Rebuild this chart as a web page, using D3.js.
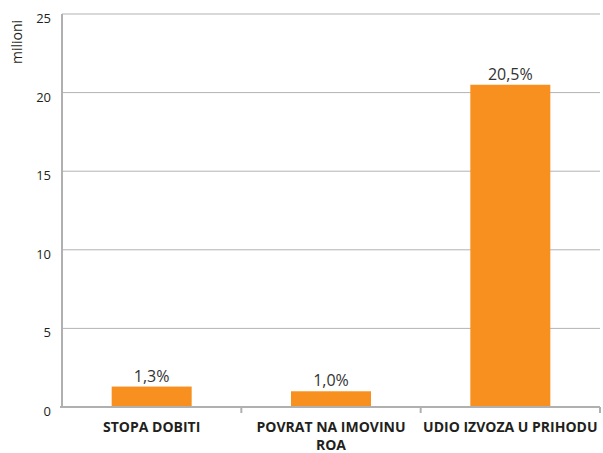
<!DOCTYPE html>
<html>
<head>
<meta charset="utf-8">
<script src="https://cdn.jsdelivr.net/npm/d3@7"></script>
<style>
  body { margin: 0; background: #fff; }
  svg text { font-family: "Open Sans", "Noto Sans", sans-serif; }
</style>
</head>
<body>
<div id="chart"></div>
<script>
const categories = [['STOPA DOBITI'], ['POVRAT NA IMOVINU', 'ROA'], ['UDIO IZVOZA U PRIHODU']];
const values = [1.3, 1.0, 20.5];
const valueLabels = ['1,3%', '1,0%', '20,5%'];
const yTicks = [0, 5, 10, 15, 20, 25];
const yTitle = 'milioni';

const W = 603, H = 453;
const margin = { top: 14, right: 3, bottom: 46, left: 62 };
const width = W - margin.left - margin.right;
const height = H - margin.top - margin.bottom;

const svg = d3.select('#chart').append('svg')
  .attr('width', W)
  .attr('height', H);

const g = svg.append('g')
  .attr('transform', `translate(${margin.left},${margin.top})`);

const x = d3.scaleBand()
  .domain(categories.map((d, i) => i))
  .range([0, width])
  .paddingInner(0)
  .paddingOuter(0);

const y = d3.scaleLinear()
  .domain([0, 25])
  .range([height, 0]);

// grid lines
g.append('g')
  .selectAll('line')
  .data(yTicks.filter(d => d > 0))
  .join('line')
  .attr('x1', 0)
  .attr('x2', width)
  .attr('y1', d => y(d))
  .attr('y2', d => y(d))
  .attr('stroke', '#b3b3b3')
  .attr('stroke-width', 1);

// y tick labels
g.append('g')
  .selectAll('text')
  .data(yTicks)
  .join('text')
  .attr('x', -11)
  .attr('y', d => y(d) + 9)
  .attr('text-anchor', 'end')
  .style('font-size', '13px')
  .style('fill', '#231f20')
  .text(d => d);

// bars
const barW = 80;
g.selectAll('rect.bar')
  .data(values)
  .join('rect')
  .attr('class', 'bar')
  .attr('x', (d, i) => x(i) + (x.bandwidth() - barW) / 2)
  .attr('y', d => y(d))
  .attr('width', barW)
  .attr('height', d => y(0) - y(d))
  .attr('fill', '#f7901e');

// value labels
g.selectAll('text.val')
  .data(values)
  .join('text')
  .attr('class', 'val')
  .attr('x', (d, i) => x(i) + x.bandwidth() / 2)
  .attr('y', d => y(d) - 5)
  .attr('text-anchor', 'middle')
  .style('font-size', '16px')
  .style('fill', '#333')
  .text((d, i) => valueLabels[i]);

// axes
g.append('line')
  .attr('x1', 0).attr('x2', 0)
  .attr('y1', 0).attr('y2', height)
  .attr('stroke', '#b0b0b0')
  .attr('stroke-width', 2);

g.append('line')
  .attr('x1', -2).attr('x2', width)
  .attr('y1', height).attr('y2', height)
  .attr('stroke', '#b0b0b0')
  .attr('stroke-width', 2);

// bottom ticks at band edges
g.append('g')
  .selectAll('line')
  .data(categories.map((d, i) => i))
  .join('line')
  .attr('x1', i => x(i) + x.bandwidth())
  .attr('x2', i => x(i) + x.bandwidth())
  .attr('y1', height)
  .attr('y2', height + 6)
  .attr('stroke', '#b0b0b0')
  .attr('stroke-width', 2);

// category labels, one text per line
const catLines = categories.flatMap((d, i) => d.map((t, j) => ({ t, i, j })));
g.selectAll('text.cat')
  .data(catLines)
  .join('text')
  .attr('class', 'cat')
  .attr('text-anchor', 'middle')
  .attr('x', d => x(d.i) + x.bandwidth() / 2)
  .attr('y', d => height + 25 + d.j * 18)
  .style('font-size', '14px')
  .style('font-weight', 'bold')
  .style('fill', '#231f20')
  .text(d => d.t);

// y title
svg.append('text')
  .attr('transform', 'translate(22,42) rotate(-90)')
  .attr('text-anchor', 'middle')
  .style('font-size', '14px')
  .style('fill', '#231f20')
  .text(yTitle);
</script>
</body>
</html>
